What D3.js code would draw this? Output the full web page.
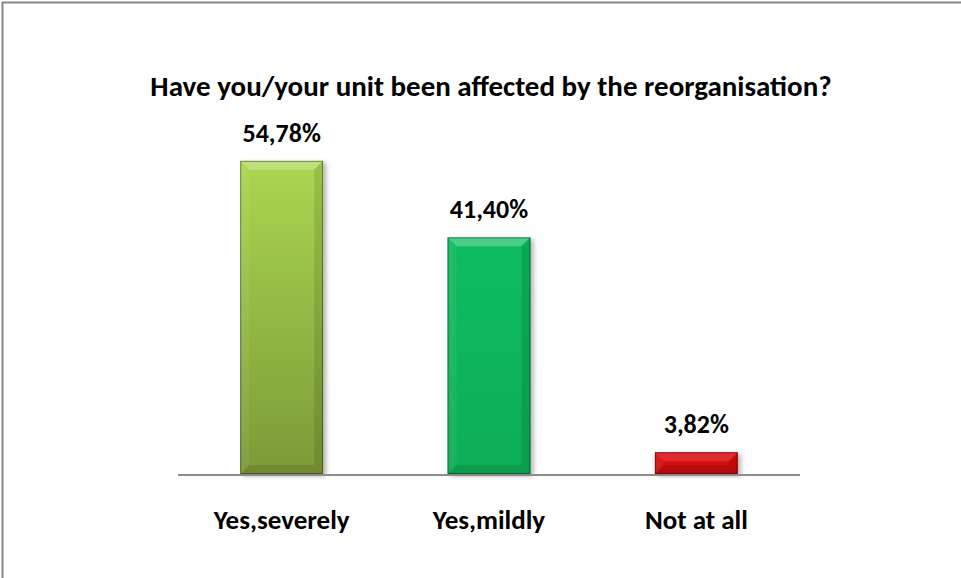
<!DOCTYPE html>
<html>
<head>
<meta charset="utf-8">
<script src="https://cdn.jsdelivr.net/npm/d3@7/dist/d3.min.js"></script>
<style>
  body { margin: 0; background: #fff; }
  text { font-family: Carlito, Calibri, "Open Sans", Lato, sans-serif; font-weight: bold; fill: #000; }
</style>
</head>
<body>
<div id="app"></div>
<script>
var categories = ['Yes,severely', 'Yes,mildly', 'Not at all'];
var values = [54.78, 41.40, 3.82];
var labels = ['54,78%', '41,40%', '3,82%'];
var topColors = ['#abd651', '#0cbd5e', '#e31014'];
var bottomColors = ['#7c9a37', '#0aae55', '#c70a0a'];
var yDomain = [0, 60];

var width = 961, height = 578,
    left = 178, right = 800, axisY = 474, plotTop = 131,
    bevel = 9;

var svg = d3.select('#app').append('svg')
            .attr('width', width)
            .attr('height', height);

svg.append('rect')
   .attr('x', 2.5).attr('y', 2.5)
   .attr('width', 970).attr('height', 600)
   .attr('fill', 'none')
   .attr('stroke', '#878787')
   .attr('stroke-width', 2);

var x = d3.scaleBand().domain(categories).range([left, right]).paddingInner(0.6).paddingOuter(0.3);
var y = d3.scaleLinear().domain(yDomain).range([axisY, plotTop]);

var defs = svg.append('defs');
categories.forEach(function(c, i) {
  var g = defs.append('linearGradient')
              .attr('id', 'bar-grad-' + i)
              .attr('x1', 0).attr('y1', 0).attr('x2', 0).attr('y2', 1);
  g.append('stop').attr('offset', 0).attr('stop-color', topColors[i]);
  g.append('stop').attr('offset', 1).attr('stop-color', bottomColors[i]);
});
var shadow = defs.append('filter').attr('id', 'shadow')
                 .attr('x', '-20%').attr('y', '-10%').attr('width', '150%').attr('height', '130%');
shadow.append('feDropShadow').attr('dx', 3).attr('dy', 2).attr('stdDeviation', 2.5)
      .attr('flood-color', '#000').attr('flood-opacity', 0.3);

svg.append('text')
   .attr('x', 491).attr('y', 96)
   .attr('text-anchor', 'middle')
   .style('font-size', '29px')
   .text('Have you/your unit been affected by the reorganisation?');

var bars = svg.selectAll('g.bar').data(values).enter().append('g').attr('class', 'bar');

bars.each(function(v, i) {
  var g = d3.select(this),
      x0 = x(categories[i]), w = x.bandwidth(),
      y0 = y(v), h = axisY - y0,
      b = Math.min(bevel, h / 2);
  g.append('rect')
   .attr('x', x0).attr('y', y0).attr('width', w).attr('height', h)
   .attr('fill', 'url(#bar-grad-' + i + ')')
   .attr('filter', 'url(#shadow)');
  // top bevel
  g.append('polygon')
   .attr('points', [[x0, y0], [x0 + w, y0], [x0 + w - b, y0 + b], [x0 + b, y0 + b]].join(' '))
   .attr('fill', '#fff').attr('fill-opacity', i == 2 ? 0.12 : 0.25);
  // left bevel
  g.append('polygon')
   .attr('points', [[x0, y0], [x0 + b, y0 + b], [x0 + b, y0 + h - b], [x0, y0 + h]].join(' '))
   .attr('fill', '#fff').attr('fill-opacity', 0.06);
  // right bevel
  g.append('polygon')
   .attr('points', [[x0 + w, y0], [x0 + w, y0 + h], [x0 + w - b, y0 + h - b], [x0 + w - b, y0 + b]].join(' '))
   .attr('fill', '#000').attr('fill-opacity', 0.1);
  // bottom bevel
  g.append('polygon')
   .attr('points', [[x0, y0 + h], [x0 + w, y0 + h], [x0 + w - b, y0 + h - b], [x0 + b, y0 + h - b]].join(' '))
   .attr('fill', '#000').attr('fill-opacity', 0.1);
  g.append('rect')
   .attr('x', x0 + 0.5).attr('y', y0 + 0.5).attr('width', w - 1).attr('height', h - 1)
   .attr('fill', 'none').attr('stroke', '#000').attr('stroke-opacity', 0.4);

  g.append('text')
   .attr('x', x0 + w / 2).attr('y', y0 - 19)
   .attr('text-anchor', 'middle')
   .style('font-size', '26px')
   .text(labels[i]);
});

svg.append('line')
   .attr('x1', left).attr('x2', right)
   .attr('y1', axisY + 1).attr('y2', axisY + 1)
   .attr('stroke', '#8c8c8c').attr('stroke-width', 2);

svg.selectAll('text.cat').data(categories).enter().append('text')
   .attr('class', 'cat')
   .attr('x', function(d) { return x(d) + x.bandwidth() / 2; })
   .attr('y', 529)
   .attr('text-anchor', 'middle')
   .style('font-size', '27px')
   .text(function(d) { return d; });
</script>
</body>
</html>
